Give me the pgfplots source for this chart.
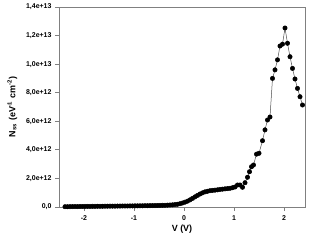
\documentclass[border=0pt]{standalone}
\usepackage{pgfplots}
\pgfplotsset{compat=1.18}
\usepackage{fontspec}
\setmainfont{Liberation Sans}
\usetikzlibrary{calc}
\definecolor{axgray}{RGB}{128,128,128}
\begin{document}
\begin{tikzpicture}
\begin{axis}[
  scale only axis,
  width=246bp, height=200bp,
  xmin=-2.5, xmax=2.42,
  ymin=0, ymax=14,
  clip=false,
  axis line style={axgray, line width=0.8bp},
  tick style={axgray, line width=0.8bp},
  tick align=outside,
  major tick length=4bp,
  xtick pos=bottom, ytick pos=left,
  xtick={-2,-1,0,1,2},
  xticklabels={\textbf{-2},\textbf{-1},\textbf{0},\textbf{1},\textbf{2}},
  ytick={0,2,4,6,8,10,12,14},
  yticklabels={{\textbf{0,0}},{\textbf{2,0e+12}},{\textbf{4,0e+12}},{\textbf{6,0e+12}},{\textbf{8,0e+12}},{\textbf{1,0e+13}},{\textbf{1,2e+13}},{\textbf{1,4e+13}}},
  tick label style={font=\fontsize{7}{8}\selectfont, text=black},
  xticklabel style={yshift=-1bp},
  xlabel={\textbf{V (V)}},
  ylabel={\bfseries N\textsubscript{ss} (eV\textsuperscript{-1} cm\textsuperscript{-2})},
  label style={font=\fontsize{9}{10}\selectfont},
  xlabel style={yshift=2bp},
  ylabel style={yshift=2bp},
]
\addplot[color=black!70, line width=0.5bp, mark=*, mark size=2.2bp, mark options={fill=black, draw=black}] coordinates {
(-2.38,0.02)(-2.33,0.02)(-2.28,0.025)(-2.23,0.03)(-2.18,0.03)(-2.13,0.03)(-2.08,0.035)(-2.03,0.035)
(-1.98,0.04)(-1.93,0.04)(-1.88,0.04)(-1.83,0.045)(-1.78,0.045)(-1.73,0.05)(-1.68,0.05)(-1.63,0.05)
(-1.58,0.055)(-1.53,0.055)(-1.48,0.06)(-1.43,0.06)(-1.38,0.06)(-1.33,0.065)(-1.28,0.065)(-1.23,0.07)
(-1.18,0.07)(-1.13,0.07)(-1.08,0.075)(-1.03,0.075)(-0.98,0.08)(-0.93,0.08)(-0.88,0.085)(-0.83,0.085)
(-0.78,0.09)(-0.73,0.09)(-0.68,0.095)(-0.63,0.10)(-0.58,0.10)(-0.53,0.105)(-0.48,0.11)(-0.43,0.115)
(-0.38,0.12)(-0.33,0.13)(-0.28,0.14)(-0.23,0.15)(-0.18,0.17)(-0.13,0.19)(-0.08,0.23)(-0.03,0.28)
(0.02,0.34)(0.07,0.41)(0.12,0.50)(0.17,0.60)(0.22,0.71)(0.27,0.81)(0.32,0.91)(0.37,0.99)
(0.42,1.06)(0.47,1.10)(0.52,1.14)(0.57,1.16)(0.62,1.18)(0.67,1.20)(0.72,1.23)(0.77,1.25)
(0.82,1.27)(0.87,1.29)(0.92,1.31)(0.97,1.35)(1.02,1.40)(1.07,1.54)(1.12,1.54)(1.17,1.38)
(1.22,1.70)(1.27,2.08)(1.31,2.47)(1.35,2.82)(1.39,2.94)(1.45,3.70)(1.50,3.76)(1.57,4.64)
(1.62,5.40)(1.67,6.09)(1.72,6.30)(1.77,9.00)(1.82,9.60)(1.87,10.30)(1.92,11.27)(1.97,11.40)
(2.02,12.53)(2.07,11.46)(2.12,10.52)(2.17,9.70)(2.22,8.96)(2.27,8.30)(2.32,7.72)(2.37,7.14)
};
\end{axis}
\pgfresetboundingbox
\path ($(current axis.south west)+(-59bp,-39bp)$) rectangle ($(current axis.north east)+(7bp,7bp)$);
\end{tikzpicture}
\end{document}
